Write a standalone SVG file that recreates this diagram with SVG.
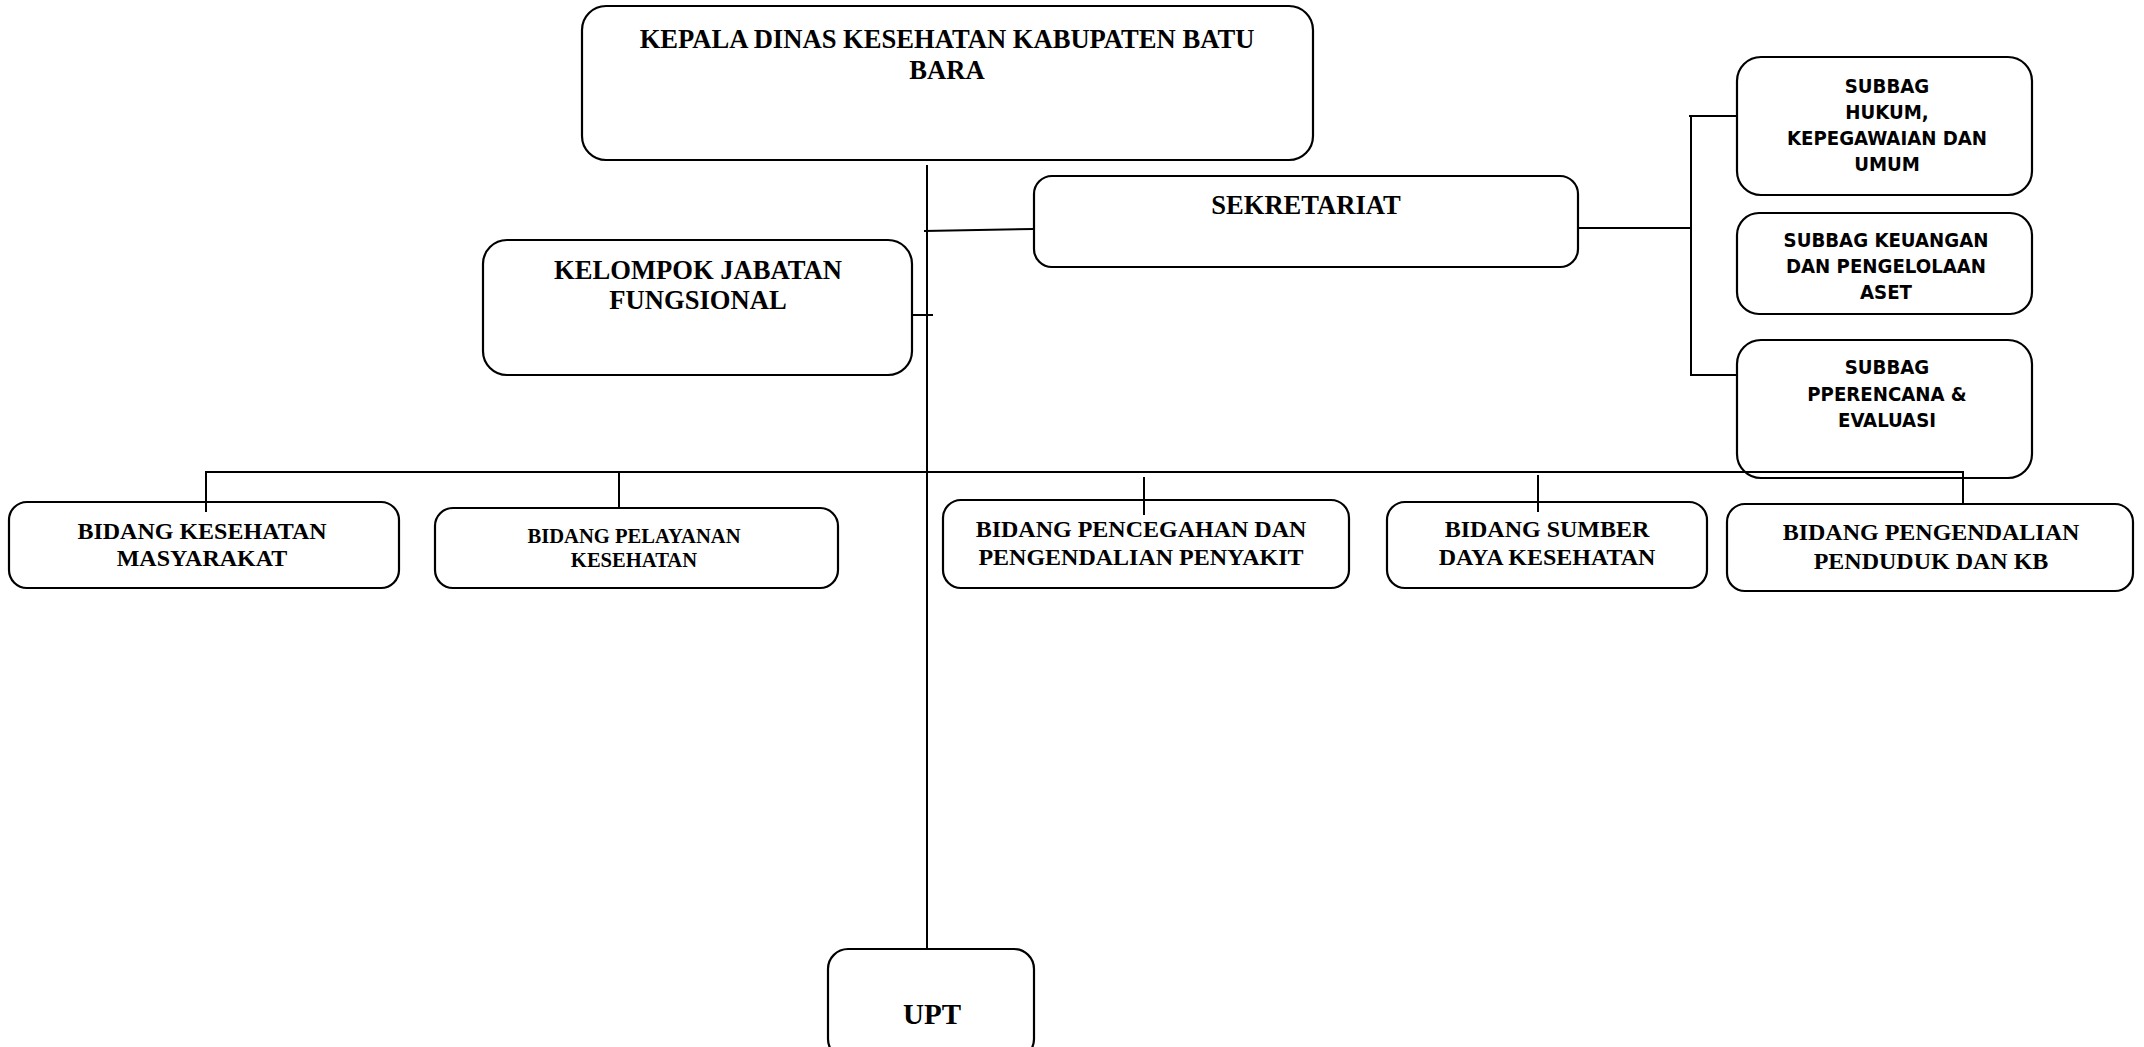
<svg xmlns="http://www.w3.org/2000/svg" width="2144" height="1047" viewBox="0 0 2144 1047">
<style>
.box{fill:#fff;stroke:#000;stroke-width:2.2}
.ln{fill:none;stroke:#000;stroke-width:2}
.serif{font-family:"Liberation Serif","Times New Roman",serif;font-weight:bold;fill:#000;text-anchor:middle}
.sans{font-family:"DejaVu Sans Condensed","DejaVu Sans",sans-serif;font-stretch:condensed;font-weight:bold;fill:#000;text-anchor:middle;font-size:20.2px}
.t27{font-size:26.6px}
.t24{font-size:24px}
.t20{font-size:20.6px}
.t29{font-size:29px}
</style>
<rect width="2144" height="1047" fill="#fff"/>

<g id="node-kepala">
<rect class="box" x="582" y="6" width="731" height="154" rx="24"/>
<text class="serif t27" x="947" y="48">KEPALA DINAS KESEHATAN KABUPATEN BATU</text>
<text class="serif t27" x="947" y="79">BARA</text>
</g>

<g id="node-sekretariat">
<rect class="box" x="1034" y="176" width="544" height="91" rx="18"/>
<text class="serif t27" x="1306" y="214">SEKRETARIAT</text>
</g>

<g id="node-kelompok">
<rect class="box" x="483" y="240" width="429" height="135" rx="24"/>
<text class="serif t27" x="698" y="279">KELOMPOK JABATAN</text>
<text class="serif t27" x="698" y="309">FUNGSIONAL</text>
</g>

<g id="node-subbag-hukum">
<rect class="box" x="1737" y="57" width="295" height="138" rx="24"/>
<text class="sans" x="1887" y="93">SUBBAG</text>
<text class="sans" x="1887" y="119">HUKUM,</text>
<text class="sans" x="1887" y="145">KEPEGAWAIAN DAN</text>
<text class="sans" x="1887" y="171">UMUM</text>
</g>

<g id="node-subbag-keuangan">
<rect class="box" x="1737" y="213" width="295" height="101" rx="22"/>
<text class="sans" x="1886" y="247">SUBBAG KEUANGAN</text>
<text class="sans" x="1886" y="273">DAN PENGELOLAAN</text>
<text class="sans" x="1886" y="299">ASET</text>
</g>

<g id="node-subbag-perencana">
<rect class="box" x="1737" y="340" width="295" height="138" rx="24"/>
<text class="sans" x="1887" y="374">SUBBAG</text>
<text class="sans" x="1887" y="401">PPERENCANA &amp;</text>
<text class="sans" x="1887" y="427">EVALUASI</text>
</g>

<g id="node-bidang-kesmas">
<rect class="box" x="9" y="502" width="390" height="86" rx="18"/>
<text class="serif t24" x="202" y="538.5">BIDANG KESEHATAN</text>
<text class="serif t24" x="202" y="566">MASYARAKAT</text>
</g>

<g id="node-bidang-pelayanan">
<rect class="box" x="435" y="508" width="403" height="80" rx="18"/>
<text class="serif t20" x="634" y="542.5">BIDANG PELAYANAN</text>
<text class="serif t20" x="634" y="567">KESEHATAN</text>
</g>

<g id="node-bidang-pencegahan">
<rect class="box" x="943" y="500" width="406" height="88" rx="18"/>
<text class="serif t24" x="1141" y="536.5">BIDANG PENCEGAHAN DAN</text>
<text class="serif t24" x="1141" y="565">PENGENDALIAN PENYAKIT</text>
</g>

<g id="node-bidang-sdk">
<rect class="box" x="1387" y="502" width="320" height="86" rx="18"/>
<text class="serif t24" x="1547" y="536.5">BIDANG SUMBER</text>
<text class="serif t24" x="1547" y="565">DAYA KESEHATAN</text>
</g>

<g id="node-bidang-kb">
<rect class="box" x="1727" y="504" width="406" height="87" rx="18"/>
<text class="serif t24" x="1931" y="540">BIDANG PENGENDALIAN</text>
<text class="serif t24" x="1931" y="568.5">PENDUDUK DAN KB</text>
</g>

<g id="node-upt">
<rect class="box" x="828" y="949" width="206" height="110" rx="20"/>
<text class="serif t29" x="932" y="1024">UPT</text>
</g>

<g id="connectors">
<line class="ln" x1="927" y1="165" x2="927" y2="949"/>
<line class="ln" x1="924" y1="231" x2="1034" y2="229"/>
<line class="ln" x1="912" y1="315" x2="933" y2="315"/>
<line class="ln" x1="1578" y1="228" x2="1691" y2="228"/>
<polyline class="ln" points="1689,116 1691,116 1691,375 1737,375"/>
<line class="ln" x1="1691" y1="116" x2="1737" y2="116"/>
<polyline class="ln" points="206,512 206,472 1963,472 1963,504"/>
<line class="ln" x1="619" y1="472" x2="619" y2="508"/>
<line class="ln" x1="1144" y1="477" x2="1144" y2="515"/>
<line class="ln" x1="1538" y1="475" x2="1538" y2="512"/>
</g>
</svg>
